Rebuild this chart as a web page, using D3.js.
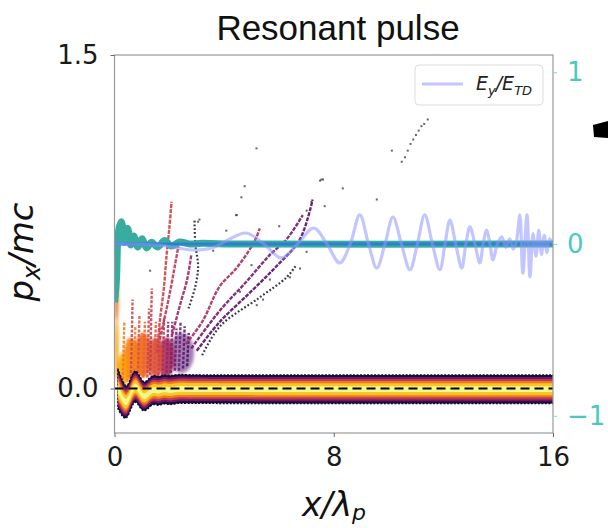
<!DOCTYPE html>
<html><head><meta charset="utf-8">
<script src="https://cdn.jsdelivr.net/npm/d3@7/dist/d3.min.js"></script>
<style>body{margin:0;background:#fff}svg{display:block}</style>
</head><body><svg id="c" width="608" height="528"></svg>
<script>
// ---------- data ----------
const xTicks = [0, 8, 16];
const yTicks = [0.0, 1.5];
const yTickLabels = ["0.0", "1.5"];
const rTicks = [-1, 0, 1];
const rTickLabels = ["\u22121", "0", "1"];

// E_y / E_TD (right axis)
const eyX = [0,1.5,2.2,2.9,3.6,4.1,4.8,5.45,6.09,6.68,7.27,7.75,8.22,8.6,8.95,9.27,9.57,9.87,10.16,10.47,10.78,11.05,11.32,11.6,11.87,12.06,12.24,12.45,12.67,12.82,12.97,13.15,13.33,13.45,13.58,13.7,13.81,13.97,14.13,14.28,14.42,14.55,14.67,14.79,14.9,15.05,15.16,15.27,15.38,15.48,15.58,15.68,15.78,15.88,16];
const eyV = [0,-0.005,-0.02,-0.035,-0.02,0.02,0.064,0,-0.081,0,0.093,0,-0.11,0,0.169,0,-0.14,0,0.157,0,-0.15,0,0.169,0,-0.15,0,0.139,0,-0.14,0,0.1,0,-0.11,0,0.081,0,-0.093,0,0.041,-0.02,0.03,-0.03,0.02,0.169,-0.169,0.169,-0.192,0.06,-0.07,0.08,-0.06,0.05,-0.05,0.03,0];

// teal quantity (right axis)
const tealX = [0,0.07,0.15,0.25,0.37,0.48,0.59,0.7,0.85,1.0,1.17,1.35,1.57,1.83,2.08,2.37,2.74,3.2,4,16];
const tealV = [-0.34,-0.21,0.08,0.13,0.01,0.09,-0.006,0.046,-0.017,0.03,-0.023,0.01,-0.017,0.02,-0.012,0.012,0,0.004,0,0];

// bulk of the electron phase space (p_x)
const bandX      = [0.12,0.3,0.45,0.6,0.75,0.9,1.05,1.2,1.4,1.6,1.8,2.0,2.3,2.7,3.2,16];
const bandCenter = [0.0,-0.05,-0.07,-0.02,0.02,-0.01,-0.04,-0.03,0.0,-0.015,0.0,-0.01,0.0,-0.003,-0.003,-0.003];
const bandHalf   = [0.09,0.08,0.07,0.07,0.07,0.07,0.065,0.065,0.065,0.065,0.065,0.065,0.065,0.064,0.064,0.064];

// hot cloud above the band near the entrance
const cloudX  = [2.45,1.9,1.5,1.05,0.6,0.3,0.08,0.08];
const cloudP  = [0.16,0.14,0.14,0.15,0.13,0.08,0.42,0.18];
const cloudRx = [0.45,0.3,0.3,0.32,0.28,0.18,0.07,0.07];
const cloudRy = [0.09,0.09,0.09,0.1,0.1,0.08,0.13,0.14];
const cloudD  = [0.25,0.45,0.6,0.66,0.72,0.8,0.68,0.8];

// short streaks leaving the cloud
const streakX  = [0.3,0.45,0.6,0.7,0.85,0.95,1.05,1.2,1.3,1.45,1.6,1.75,1.9,2.05,2.2,2.35,2.5,2.65];
const streakP0 = [0.02,0.03,0.05,0.04,0.05,0.04,0.05,0.05,0.06,0.05,0.06,0.06,0.07,0.07,0.08,0.08,0.09,0.1];
const streakP1 = [0.3,0.22,0.4,0.28,0.33,0.25,0.3,0.36,0.45,0.3,0.28,0.32,0.3,0.3,0.27,0.3,0.28,0.25];
const streakShade = [0.7,0.75,0.55,0.7,0.6,0.7,0.65,0.55,0.5,0.6,0.55,0.45,0.4,0.35,0.3,0.3,0.25,0.2];

// accelerated particle trajectories
const trajXs = [
  [1.55,1.65,1.8,1.9,2.0,2.08],
  [1.65,1.85,2.05,2.2,2.33],
  [2.1,2.4,2.65,2.8],
  [2.6,3.2,3.84,4.44,5.1,5.3],
  [2.8,3.84,4.81,5.66,6.27,6.87],
  [3.0,3.84,4.93,5.91,6.76,7.23],
  [2.7,2.95,3.05,2.95,2.92],
  [3.2,3.85,5.3,6.28,6.6]
];
const trajPs = [
  [0.16,0.3,0.45,0.6,0.72,0.84],
  [0.22,0.33,0.45,0.55,0.64],
  [0.24,0.38,0.49,0.6],
  [0.2,0.3,0.46,0.54,0.66,0.72],
  [0.18,0.35,0.48,0.6,0.67,0.78],
  [0.17,0.3,0.43,0.55,0.67,0.85],
  [0.36,0.46,0.55,0.65,0.76],
  [0.15,0.28,0.41,0.5,0.55]
];
const trajShade = [0.55,0.5,0.42,0.45,0.32,0.25,0.05,0.05];

// isolated particles
const dotX = [4.08,4.44,4.63,4.75,5.18,7.55,7.67,8.33,9.57,10.12,10.48,10.6,10.7,10.8,10.9,11.0,11.1,11.2,11.3,11.43,5.0,5.67,6.4,6.77,7.01,5.42,5.19,4.58,1.3,3.05,3.1,6.01,7.01,7.61,7.5,7.19,4.46,3.6];
const dotP = [0.71,0.78,0.86,0.91,1.08,0.94,0.82,0.90,0.85,1.07,1.02,1.04,1.07,1.1,1.12,1.14,1.16,1.18,1.19,1.21,0.555,0.49,0.5,0.54,0.615,0.40,0.375,0.435,0.53,0.75,0.76,0.73,0.80,0.94,0.935,0.84,0.78,0.62];

// ---------- layout ----------
const L = 114.5, R = 553, T = 55, B = 433;
const svg = d3.select("#c");
const x = d3.scaleLinear().domain([0, 16]).range([L, R]);
const y = d3.scaleLinear().domain([-0.2, 1.5]).range([B, T]);
const yr = d3.scaleLinear().domain([-1.1, 1.1]).range([B, T]);
const font = "DejaVu Sans, sans-serif";

const defs = svg.append("defs");
defs.append("clipPath").attr("id", "clip").append("rect")
  .attr("x", L).attr("y", T).attr("width", R - L).attr("height", B - T);
defs.append("filter").attr("id", "blur2").attr("x", "-50%").attr("y", "-50%").attr("width", "200%").attr("height", "200%")
  .append("feGaussianBlur").attr("stdDeviation", 1.4);
defs.append("filter").attr("id", "blur1")
  .append("feGaussianBlur").attr("stdDeviation", 0.7);

const g = svg.append("g").attr("clip-path", "url(#clip)");

// cloud
const cg = g.append("g").attr("filter", "url(#blur2)");
cloudX.forEach((cx, i) => {
  cg.append("ellipse")
    .attr("cx", x(cx)).attr("cy", y(cloudP[i]))
    .attr("rx", x(cloudRx[i]) - x(0)).attr("ry", y(0) - y(cloudRy[i]))
    .attr("fill", d3.interpolateInferno(cloudD[i])).attr("opacity", cloudD[i] < 0.4 ? 0.55 : 0.92);
});
// streaks
streakX.forEach((sx, i) => {
  g.append("line")
    .attr("x1", x(sx)).attr("y1", y(streakP0[i]))
    .attr("x2", x(sx + 0.06)).attr("y2", y(streakP1[i]))
    .attr("stroke", d3.interpolateInferno(streakShade[i]))
    .attr("stroke-width", 2.4).attr("stroke-opacity", 0.85)
    .attr("stroke-dasharray", "3,1.5");
});

// band layers
const bandData = bandX.map((bx, i) => ({x: bx, c: bandCenter[i], h: bandHalf[i]}));
const fracs = [1.0, 0.86, 0.72, 0.57, 0.42, 0.2];
const levels = [0.1, 0.3, 0.5, 0.7, 0.86, 0.97];
const bg = g.append("g").attr("filter", "url(#blur1)");
fracs.forEach((f, k) => {
  const area = d3.area().curve(d3.curveBasis)
    .x(d => x(d.x)).y0(d => y(d.c - d.h * f)).y1(d => y(d.c + d.h * f));
  bg.append("path").datum(bandData).attr("d", area)
    .attr("fill", d3.interpolateInferno(levels[k]))
    .attr("stroke", k === 0 ? "#120a24" : "none")
    .attr("stroke-width", k === 0 ? 1.4 : 0)
    .attr("stroke-dasharray", k === 0 ? "2,1.5" : null);
});

// trajectories
const tl = d3.line().curve(d3.curveCatmullRom).x(d => x(d[0])).y(d => y(d[1]));
trajXs.forEach((xs, i) => {
  const pts = xs.map((v, j) => [v, trajPs[i][j]]);
  const dark = trajShade[i] < 0.15;
  g.append("path").datum(pts).attr("d", tl)
    .attr("fill", "none")
    .attr("stroke", d3.interpolateInferno(trajShade[i]))
    .attr("stroke-width", dark ? 2.2 : 2.4)
    .attr("stroke-opacity", dark ? 0.8 : 0.9)
    .attr("stroke-dasharray", dark ? "1.8,2" : "4,1.2");
});

// isolated particles
g.selectAll(".dot").data(dotX.map((v, i) => [v, dotP[i]])).enter().append("rect")
  .attr("x", d => x(d[0]) - 1).attr("y", d => y(d[1]) - 1)
  .attr("width", 2).attr("height", 2).attr("fill", "#333").attr("opacity", 0.75);

// zero dashed line
g.append("line").attr("x1", L).attr("x2", R).attr("y1", y(0)).attr("y2", y(0))
  .attr("stroke", "#000").attr("stroke-width", 2).attr("stroke-dasharray", "9,5");

// teal line
const rl = d3.line().curve(d3.curveCatmullRom).x(d => x(d[0])).y(d => yr(d[1]));
g.append("path").datum(tealX.map((v, i) => [v, tealV[i]])).attr("d", rl)
  .attr("fill", "none").attr("stroke", "#38ad9f").attr("stroke-width", 7).attr("stroke-linejoin", "round");
// blue zero line
g.append("line").attr("x1", L).attr("x2", R).attr("y1", yr(0)).attr("y2", yr(0))
  .attr("stroke", "#2c7fd2").attr("stroke-width", 3);
// E_y
g.append("path").datum(eyX.map((v, i) => [v, eyV[i]])).attr("d", rl)
  .attr("fill", "none").attr("stroke", "#8f96ff").attr("stroke-opacity", 0.55).attr("stroke-width", 3.2);

// frame
svg.append("rect").attr("x", L).attr("y", T).attr("width", R - L).attr("height", B - T)
  .attr("fill", "none").attr("stroke", "#999").attr("stroke-width", 1.2);

// axes
const ax = svg.append("g").attr("transform", `translate(0,${B})`)
  .call(d3.axisBottom(x).tickValues(xTicks).tickFormat(d => String(d)).tickSize(4).tickPadding(11));
const ay = svg.append("g").attr("transform", `translate(${L},0)`)
  .call(d3.axisLeft(y).tickValues(yTicks).tickFormat((d, i) => yTickLabels[i]).tickSize(4).tickPadding(12));
const ar = svg.append("g").attr("transform", `translate(${R},0)`)
  .call(d3.axisRight(yr).tickValues(rTicks).tickFormat((d, i) => rTickLabels[i]).tickSize(4).tickPadding(10));
[ax, ay, ar].forEach(a => {
  a.select(".domain").remove();
  a.selectAll("text").attr("font-family", font).attr("font-size", 26).attr("fill", "#1a1a1a");
  a.selectAll("line").attr("stroke", "#666");
});
ar.selectAll("text").attr("fill", "#4cc8c0");
ar.selectAll("line").attr("stroke", "#8fd8d2");

// title
svg.append("text").attr("x", 338).attr("y", 40).attr("text-anchor", "middle")
  .attr("font-family", "Liberation Sans, Arial, sans-serif").attr("font-size", 35).attr("fill", "#111")
  .text("Resonant pulse");

// x label
const xl = svg.append("text").attr("x", 334).attr("y", 516).attr("text-anchor", "middle")
  .attr("font-family", font).attr("font-style", "italic").attr("font-size", 33).attr("fill", "#111");
xl.append("tspan").text("x/\u03bb");
xl.append("tspan").attr("dy", 4).attr("font-size", 22).text("p");

// y label
const yl = svg.append("text").attr("transform", "translate(33,252) rotate(-90)").attr("text-anchor", "middle")
  .attr("font-family", font).attr("font-style", "italic").attr("font-size", 34).attr("fill", "#111");
yl.append("tspan").text("p");
yl.append("tspan").attr("dy", 7).attr("font-size", 24).text("x");
yl.append("tspan").attr("dy", -7).text("/mc");

// legend
const lg = svg.append("g");
lg.append("rect").attr("x", 415).attr("y", 65).attr("width", 128).attr("height", 40).attr("rx", 4)
  .attr("fill", "#fff").attr("fill-opacity", 0.85).attr("stroke", "#ddd");
lg.append("line").attr("x1", 422).attr("x2", 463).attr("y1", 84).attr("y2", 84)
  .attr("stroke", "#8f96ff").attr("stroke-opacity", 0.55).attr("stroke-width", 3.2);
const lt = lg.append("text").attr("x", 476).attr("y", 90).attr("font-family", font)
  .attr("font-style", "italic").attr("font-size", 19).attr("fill", "#222");
lt.append("tspan").text("E");
lt.append("tspan").attr("dy", 5).attr("font-size", 13).text("y");
lt.append("tspan").attr("dy", -5).text("/E");
lt.append("tspan").attr("dy", 5).attr("font-size", 13).text("TD");

// fragment of neighbouring panel at right edge
svg.append("polygon").attr("points", "593,125 608,121 608,138 594,137").attr("fill", "#000");
</script></body></html>
